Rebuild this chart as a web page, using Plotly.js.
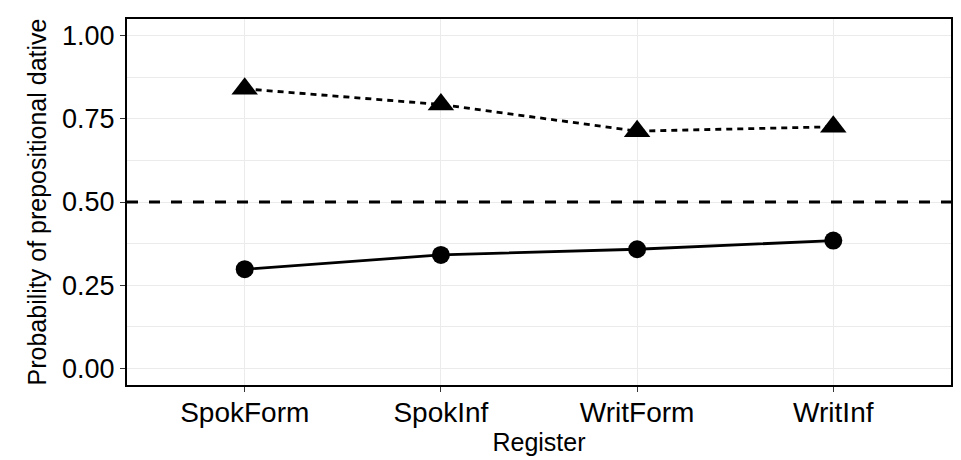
<!DOCTYPE html>
<html>
<head>
<meta charset="utf-8">
<script src="https://cdn.plot.ly/plotly-3.0.1.min.js"></script>
<style>html,body{margin:0;padding:0;background:#fff;}#chart{width:961px;height:460px;}</style>
</head>
<body>
<div id="chart"></div>
<script>
const registers = ['SpokForm', 'SpokInf', 'WritForm', 'WritInf'];
const probUpper = [0.840, 0.793, 0.713, 0.726];
const probLower = [0.298, 0.341, 0.358, 0.384];
const referenceLevel = [0.5];
const yTickVals = [0, 0.25, 0.5, 0.75, 1.0];
const yTickText = ['0.00', '0.25', '0.50', '0.75', '1.00'];
const yMinorVals = [0.125, 0.375, 0.625, 0.875];

const font = 'Liberation Sans, Arial, Helvetica, sans-serif';

const traces = [
  {
    x: registers, y: probLower, type: 'scatter', mode: 'lines+markers',
    line: {color: '#000', width: 2.8},
    marker: {symbol: 'circle', size: 18, color: '#000'},
    showlegend: false, hoverinfo: 'x+y'
  },
  {
    x: registers, y: probUpper, type: 'scatter', mode: 'lines+markers',
    line: {color: '#000', width: 2.8, dash: '6px,5px'},
    marker: {symbol: 'triangle-up', size: 23, color: '#000'},
    showlegend: false, hoverinfo: 'x+y'
  }
];

const layout = {
  width: 961, height: 460,
  margin: {l: 127, r: 10, t: 19, b: 75},
  paper_bgcolor: '#fff', plot_bgcolor: '#fff',
  font: {family: font, color: '#000'},
  xaxis: {
    type: 'category', categoryorder: 'array', categoryarray: registers,
    range: [-0.6, 3.6],
    showgrid: true, gridcolor: '#ebebeb', gridwidth: 1,
    showline: true, linecolor: '#000', linewidth: 2, mirror: true,
    ticks: 'outside', ticklen: 5, tickcolor: '#333', tickwidth: 1,
    ticklabelstandoff: -4,
    tickfont: {size: 28, color: '#000', family: font},
    title: {text: 'Register', font: {size: 25, color: '#000', family: font}, standoff: 0},
    zeroline: false
  },
  yaxis: {
    range: [-0.05, 1.05],
    tickvals: yTickVals, ticktext: yTickText,
    showgrid: true, gridcolor: '#ebebeb', gridwidth: 1,
    minor: {tickvals: yMinorVals, showgrid: true, gridcolor: '#ebebeb', gridwidth: 1, ticks: ''},
    showline: true, linecolor: '#000', linewidth: 2, mirror: true,
    ticks: 'outside', ticklen: 5, tickcolor: '#333', tickwidth: 1,
    tickfont: {size: 27, color: '#000', family: font},
    title: {text: 'Probability of prepositional dative', font: {size: 25, color: '#000', family: font}, standoff: 8},
    zeroline: false
  },
  shapes: referenceLevel.map(v => ({
    type: 'line', xref: 'paper', x0: 0, x1: 1, yref: 'y', y0: v, y1: v,
    line: {color: '#000', width: 2.8, dash: '11px,11px'}, layer: 'above'
  }))
};

Plotly.newPlot('chart', traces, layout, {displayModeBar: false, staticPlot: true});
</script>
</body>
</html>
